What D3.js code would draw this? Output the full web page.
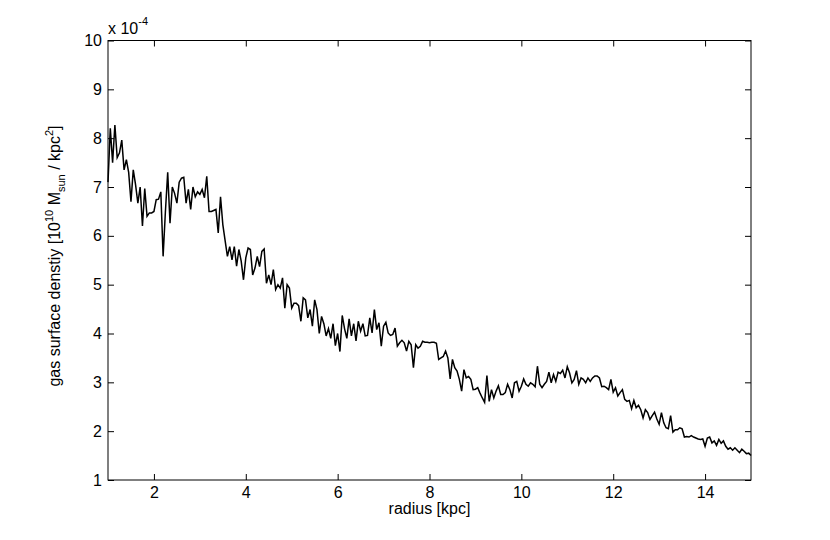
<!DOCTYPE html>
<html>
<head>
	<script src="https://d3js.org/d3.v7.min.js"></script>
	<style>
		body { margin: 0; background: #fff; }
		svg text { font-family: "Liberation Sans", Arial, Helvetica, sans-serif; font-size: 16px; fill: #000; }
	</style>
</head>
<body>
	<div class="chart-container"></div>
	<script>
		// surface density profile, sampled every 0.05 kpc starting at 1 kpc (values in units of 1e-4)
		var r_start = 1, r_step = 0.05;
		var density_inner = [7.1, 8.2, 7.5, 8.27, 7.6, 7.7, 7.96, 7.35, 7.56, 7.3,
			6.7, 7.35, 7.05, 6.67, 7.0, 6.2, 6.97, 6.4, 6.47, 6.47,
			6.5, 6.74, 6.75, 6.9, 5.58, 6.5, 7.3, 6.26, 7.0, 6.87,
			6.67, 7.1, 7.18, 7.2, 6.67, 6.95, 6.54, 7.0, 6.8, 6.9,
			6.85, 6.95, 6.78, 7.22, 6.5, 6.5, 6.52, 6.54, 6.06, 6.8,
			6.23, 5.9, 5.58, 5.78, 5.51, 5.78, 5.38];
		var density_mid = [5.72, 5.48, 5.10, 5.55, 5.75, 5.72, 5.2, 5.34, 5.58, 5.37,
			5.68, 5.73, 5.03, 5.2, 5.0, 5.31, 4.9, 5.0, 4.93, 5.14,
			4.52, 5.0, 4.93, 4.52, 4.62, 4.62, 4.57, 4.25, 4.73, 4.69,
			4.32, 4.49, 4.15, 4.69, 4.49, 4.0, 4.35, 4.2, 3.95, 4.1,
			3.9, 4.2, 3.75, 4.0, 3.63, 4.37, 4.1, 3.9, 4.3, 3.95,
			4.2, 3.85, 4.25, 4.05, 4.2, 3.95];
		var density_bar = [3.96, 4.32, 4.01, 4.49, 4.08, 4.22, 3.74, 4.15, 4.23, 4.01,
			3.96, 3.98, 4.11, 3.74, 3.81, 3.86, 3.81, 3.64, 3.84, 3.77,
			3.30, 3.77, 3.70, 3.74, 3.84, 3.82, 3.82, 3.81, 3.82, 3.82,
			3.80, 3.47, 3.50, 3.53, 3.64, 3.50, 3.07, 3.47, 3.30, 3.23,
			3.06, 2.82, 3.26, 3.09, 3.12, 3.06, 2.85, 2.86, 2.89, 2.78,
			2.68, 2.59, 3.14, 2.61, 2.85, 2.68, 2.82, 2.93];
		var density_ring = [2.75, 2.75, 2.79, 2.96, 2.85, 2.68, 2.99, 3.02, 2.82, 2.92,
			3.07, 2.96, 2.92, 2.99, 2.96, 2.91, 3.33, 2.96, 2.89, 2.96,
			3.02, 3.21, 2.99, 3.16, 3.02, 3.21, 3.18, 3.25, 3.09, 3.32,
			3.19, 2.99, 3.06, 3.24, 2.96, 3.09, 3.06, 2.99, 3.09, 3.02,
			3.09, 3.13, 3.13, 3.09, 2.91, 2.92, 2.89, 2.85, 3.06, 2.80,
			2.89, 2.72, 2.79, 2.85, 2.65, 2.61];
		var density_outer = [2.63, 2.46, 2.63, 2.48, 2.53, 2.44, 2.27, 2.44, 2.38, 2.24,
			2.32, 2.39, 2.25, 2.14, 2.38, 2.17, 2.07, 2.05, 2.32, 1.98,
			2.03, 2.03, 2.07, 2.05, 1.88, 1.89, 1.88, 1.91, 1.88, 1.86,
			1.84, 1.83, 1.84, 1.69, 1.86, 1.88, 1.76, 1.80, 1.71, 1.83,
			1.75, 1.80, 1.69, 1.63, 1.66, 1.61, 1.66, 1.61, 1.56, 1.63,
			1.59, 1.54, 1.55, 1.50];
		var x_ticks = [2, 4, 6, 8, 10, 12, 14];
		var y_ticks = [1, 2, 3, 4, 5, 6, 7, 8, 9, 10];

		var density = density_inner.concat(density_mid, density_bar, density_ring, density_outer);
		var profile = density.map(function(d, i) {
			return { r: r_start + i * r_step, v: d };
		});

		// matlab-like axes box (names avoid window.top etc.)
		var w = 830, h = 540;
		var ax_left = 108, ax_right = 751, ax_top = 40.5, ax_bottom = 480;
		var tick = 6;

		var svg = d3.select(".chart-container")
			.append("svg")
			.attr("width", w)
			.attr("height", h);

		var x = d3.scaleLinear().domain([1, 15]).range([ax_left, ax_right]);
		var y = d3.scaleLinear().domain([1, 10]).range([ax_bottom, ax_top]);

		// axes, ticks pointing inward on all four sides
		svg.append("g")
			.attr("transform", "translate(0," + ax_bottom + ")")
			.call(d3.axisBottom(x).tickValues(x_ticks).tickSize(-tick).tickPadding(7).tickFormat(d3.format("d")))
			.call(styleAxis);
		svg.append("g")
			.attr("transform", "translate(0," + ax_top + ")")
			.call(d3.axisTop(x).tickValues(x_ticks).tickSize(-tick).tickFormat(""))
			.call(styleAxis);
		svg.append("g")
			.attr("transform", "translate(" + ax_left + ",0)")
			.call(d3.axisLeft(y).tickValues(y_ticks).tickSize(-tick).tickPadding(6).tickFormat(d3.format("d")))
			.call(styleAxis);
		svg.append("g")
			.attr("transform", "translate(" + ax_right + ",0)")
			.call(d3.axisRight(y).tickValues(y_ticks).tickSize(-tick).tickFormat(""))
			.call(styleAxis);

		function styleAxis(g) {
			g.select(".domain").remove();
			g.attr("font-size", 16).attr("font-family", null);
			g.selectAll(".tick line").attr("stroke", "#000").attr("stroke-width", 1);
			g.selectAll(".tick text").attr("fill", "#000");
		}

		svg.append("rect")
			.attr("x", ax_left)
			.attr("y", ax_top)
			.attr("width", ax_right - ax_left)
			.attr("height", ax_bottom - ax_top)
			.attr("fill", "none")
			.attr("stroke", "#000")
			.attr("stroke-width", 1);

		// the profile line
		var line = d3.line()
			.x(function(d) { return x(d.r); })
			.y(function(d) { return y(d.v); });

		svg.append("path")
			.datum(profile)
			.attr("d", line)
			.attr("fill", "none")
			.attr("stroke", "#000")
			.attr("stroke-width", 1.5)
			.attr("stroke-linejoin", "miter");

		// exponent label above the y axis
		var expo = svg.append("text")
			.attr("x", ax_left)
			.attr("y", 34);
		expo.append("tspan").text("x 10");
		expo.append("tspan").attr("dy", -9).style("font-size", "11px").text("-4");

		// axis titles
		svg.append("text")
			.attr("x", (ax_left + ax_right) / 2)
			.attr("y", 514)
			.attr("text-anchor", "middle")
			.text("radius [kpc]");

		var ylab = svg.append("text")
			.attr("transform", "translate(60,256) rotate(-90)")
			.attr("text-anchor", "middle");
		ylab.append("tspan").text("gas surface denstiy [10");
		ylab.append("tspan").attr("dy", -7).style("font-size", "11px").text("10");
		ylab.append("tspan").attr("dy", 7).text(" M");
		ylab.append("tspan").attr("dy", 5).style("font-size", "11px").text("sun");
		ylab.append("tspan").attr("dy", -5).text("  / kpc");
		ylab.append("tspan").attr("dy", -7).style("font-size", "11px").text("2");
		ylab.append("tspan").attr("dy", 7).text("]");
	</script>
</body>
</html>
